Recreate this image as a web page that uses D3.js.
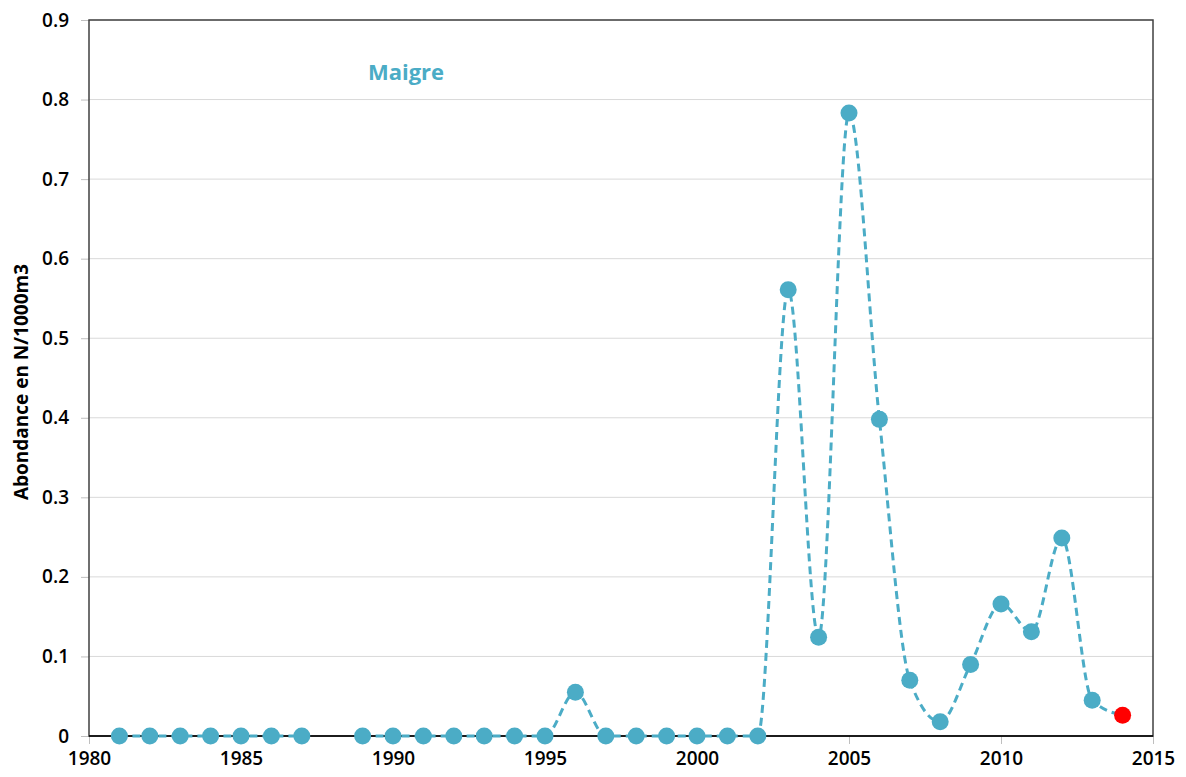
<!DOCTYPE html>
<html><head><meta charset="utf-8">
<script src="https://cdn.jsdelivr.net/npm/d3@7"></script>
<style>body{margin:0;background:#fff;} svg{display:block;}</style>
</head><body>
<svg id="chart" width="1186" height="777"></svg>
<script>
const years = [1981,1982,1983,1984,1985,1986,1987,1988,1989,1990,1991,1992,1993,1994,1995,1996,1997,1998,1999,2000,2001,2002,2003,2004,2005,2006,2007,2008,2009,2010,2011,2012,2013,2014];
const values = [0,0,0,0,0,0,0,null,0,0,0,0,0,0,0,0.055,0,0,0,0,0,0,0.561,0.124,0.783,0.398,0.070,0.018,0.090,0.166,0.131,0.249,0.045,0.026];
const highlightYear = 2014;
const xTicks = [1980,1985,1990,1995,2000,2005,2010,2015];
const yTicks = [0,0.1,0.2,0.3,0.4,0.5,0.6,0.7,0.8,0.9];
const title = "Maigre";
const yLabel = "Abondance en N/1000m3";

const svg = d3.select("#chart");
const m = {left:89, right:1153, top:20, bottom:736};
const x = d3.scaleLinear().domain([1980,2015]).range([m.left,m.right]);
const y = d3.scaleLinear().domain([0,0.9]).range([m.bottom,m.top]);
const color = "#4BACC6";
const font = "'Open Sans', sans-serif";

// gridlines
svg.append("g").selectAll("line").data(yTicks.filter(d=>d>0)).join("line")
  .attr("x1",m.left).attr("x2",m.right).attr("y1",d=>y(d)).attr("y2",d=>y(d))
  .attr("stroke","#d9d9d9").attr("stroke-width",1);

// y axis
const yAxis = svg.append("g").attr("transform",`translate(${m.left},0)`)
  .call(d3.axisLeft(y).tickValues(yTicks).tickFormat(d=>d===0?"0":d3.format(".1f")(d)).tickSize(8).tickPadding(12));
yAxis.select(".domain").remove();
yAxis.selectAll(".tick line").attr("stroke","#bfbfbf");
yAxis.selectAll("text").attr("font-family",font).attr("font-weight",600).attr("font-size",19).attr("fill","#000");

// x axis
const xAxis = svg.append("g").attr("transform",`translate(0,${m.bottom})`)
  .call(d3.axisBottom(x).tickValues(xTicks).tickFormat(d3.format("d")).tickSize(8).tickPadding(8));
xAxis.select(".domain").remove();
xAxis.selectAll(".tick line").attr("stroke","#bfbfbf");
xAxis.selectAll("text").attr("font-family",font).attr("font-weight",600).attr("font-size",19).attr("fill","#000");

// frame
svg.append("rect").attr("x",m.left).attr("y",m.top).attr("width",m.right-m.left).attr("height",m.bottom-m.top)
  .attr("fill","none").attr("stroke","#404040").attr("stroke-width",1.5);
svg.append("line").attr("x1",m.left).attr("x2",m.right).attr("y1",m.bottom).attr("y2",m.bottom)
  .attr("stroke","#000").attr("stroke-width",1.5);

const data = years.map((yr,i)=>({year:yr,value:values[i]}));

// line
const line = d3.line().defined(d=>d.value!==null).x(d=>x(d.year)).y(d=>y(d.value)).curve(d3.curveMonotoneX);
svg.append("path").datum(data).attr("d",line).attr("fill","none")
  .attr("stroke",color).attr("stroke-width",3).attr("stroke-dasharray","8,5");

// markers
svg.append("g").selectAll("circle").data(data.filter(d=>d.value!==null)).join("circle")
  .attr("cx",d=>x(d.year)).attr("cy",d=>y(d.value)).attr("r",8.5)
  .attr("fill",d=>d.year===highlightYear?"#ff0000":color);

// title
svg.append("text").attr("x",406).attr("y",80).attr("text-anchor","middle")
  .attr("font-family",font).attr("font-weight",700).attr("font-size",22).attr("fill",color).text(title);

// y label
svg.append("text").attr("transform","translate(28,382) rotate(-90)").attr("text-anchor","middle")
  .attr("font-family",font).attr("font-weight",700).attr("font-size",19).attr("fill","#000").text(yLabel);
</script>
</body></html>
